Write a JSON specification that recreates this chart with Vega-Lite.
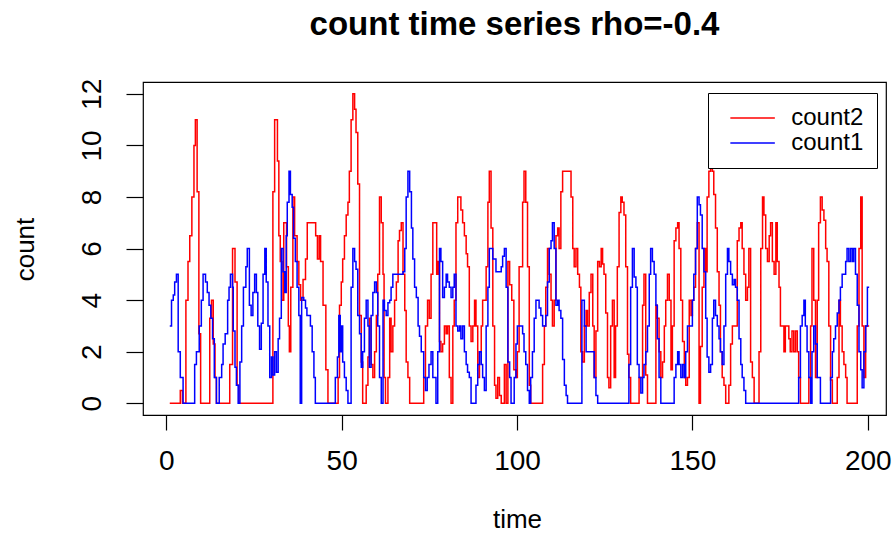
{
"$schema":"https://vega.github.io/schema/vega-lite/v6.json",
"autosize":{"type":"none"},
"padding":{"left":143,"top":82,"right":6,"bottom":118},
"width":743,"height":333,
"background":"white",
"title":{"text":"count time series rho=-0.4","font":"Liberation Sans","fontSize":33,"fontWeight":"bold","color":"black","anchor":"middle","frame":"group","baseline":"bottom","offset":3},
"config":{"view":{"stroke":"black","strokeWidth":1.2},"axis":{"grid":false,"domain":false,"labelFont":"Liberation Sans","titleFont":"Liberation Sans","labelFontSize":28,"titleFontSize":26,"titleFontWeight":"normal","labelColor":"black","titleColor":"black","tickColor":"black","tickWidth":1.2}},
"data":{"values":[
{"s":"count2","t":1,"v":0},{"s":"count2","t":4,"v":0.5},{"s":"count2","t":4.6,"v":0},{"s":"count2","t":5.6,"v":4},{"s":"count2","t":6.2,"v":5.5},{"s":"count2","t":6.7,"v":6.5},{"s":"count2","t":7.3,"v":8},{"s":"count2","t":7.9,"v":10},{"s":"count2","t":8.3,"v":11},{"s":"count2","t":8.8,"v":8.2},{"s":"count2","t":9.3,"v":2.7},{"s":"count2","t":9.8,"v":0},
{"s":"count2","t":12.4,"v":3.3},{"s":"count2","t":12.9,"v":4},{"s":"count2","t":13.4,"v":2.3},{"s":"count2","t":13.9,"v":1},{"s":"count2","t":14.3,"v":0},
{"s":"count2","t":18.1,"v":1.5},{"s":"count2","t":18.9,"v":6},{"s":"count2","t":19.6,"v":4.7},{"s":"count2","t":20.2,"v":0.7},{"s":"count2","t":20.7,"v":0},
{"s":"count2","t":30.4,"v":8.2},{"s":"count2","t":30.9,"v":11},{"s":"count2","t":31.7,"v":9.4},{"s":"count2","t":32.1,"v":6.5},{"s":"count2","t":32.5,"v":5.5},{"s":"count2","t":33,"v":4},{"s":"count2","t":33.5,"v":7},{"s":"count2","t":34.3,"v":5.3},{"s":"count2","t":34.8,"v":3},{"s":"count2","t":35.1,"v":2},{"s":"count2","t":35.5,"v":4.5},{"s":"count2","t":36.1,"v":8},{"s":"count2","t":36.6,"v":6.5},{"s":"count2","t":37.3,"v":5.5},{"s":"count2","t":37.8,"v":4.6},{"s":"count2","t":38.3,"v":4},{"s":"count2","t":39,"v":4.8},{"s":"count2","t":39.7,"v":5.6},{"s":"count2","t":40.2,"v":7},{"s":"count2","t":42.6,"v":6.5},{"s":"count2","t":43.1,"v":5.6},{"s":"count2","t":43.6,"v":6.5},{"s":"count2","t":44,"v":5.5},{"s":"count2","t":44.7,"v":3.8},{"s":"count2","t":45.5,"v":1.3},{"s":"count2","t":46.1,"v":0},
{"s":"count2","t":49,"v":1},{"s":"count2","t":49.4,"v":3.8},{"s":"count2","t":49.9,"v":4.7},{"s":"count2","t":50.3,"v":5.6},{"s":"count2","t":50.8,"v":6.5},{"s":"count2","t":51.3,"v":7.3},{"s":"count2","t":51.8,"v":7.8},{"s":"count2","t":52.2,"v":9},{"s":"count2","t":52.7,"v":11},{"s":"count2","t":53.2,"v":12},{"s":"count2","t":53.7,"v":11.4},{"s":"count2","t":54.1,"v":10.5},{"s":"count2","t":54.6,"v":8.5},{"s":"count2","t":55.1,"v":3.4},{"s":"count2","t":55.6,"v":1.6},{"s":"count2","t":56,"v":0},
{"s":"count2","t":57,"v":0.7},{"s":"count2","t":57.5,"v":1.8},{"s":"count2","t":57.9,"v":3.3},{"s":"count2","t":58.4,"v":1.5},{"s":"count2","t":58.9,"v":1},{"s":"count2","t":59.4,"v":2},{"s":"count2","t":59.9,"v":3.4},{"s":"count2","t":60.3,"v":5},{"s":"count2","t":60.8,"v":8},{"s":"count2","t":61.3,"v":7},{"s":"count2","t":61.8,"v":5},{"s":"count2","t":62.1,"v":1},{"s":"count2","t":62.5,"v":0},
{"s":"count2","t":63.2,"v":1},{"s":"count2","t":63.7,"v":3.3},{"s":"count2","t":64.1,"v":2},{"s":"count2","t":64.6,"v":3},{"s":"count2","t":65.1,"v":4},{"s":"count2","t":65.6,"v":4.7},{"s":"count2","t":66.1,"v":6.3},{"s":"count2","t":66.5,"v":6.7},{"s":"count2","t":67,"v":7},{"s":"count2","t":67.5,"v":5},{"s":"count2","t":68,"v":3.6},{"s":"count2","t":68.4,"v":1.6},{"s":"count2","t":68.9,"v":1},{"s":"count2","t":69.4,"v":0},
{"s":"count2","t":73.4,"v":1},{"s":"count2","t":73.9,"v":3},{"s":"count2","t":74.5,"v":4},{"s":"count2","t":75,"v":3.3},{"s":"count2","t":75.5,"v":5},{"s":"count2","t":76,"v":7},{"s":"count2","t":77.1,"v":5},{"s":"count2","t":77.5,"v":5.5},{"s":"count2","t":77.9,"v":2.4},{"s":"count2","t":78.3,"v":2},{"s":"count2","t":78.8,"v":2.3},{"s":"count2","t":79.3,"v":3},{"s":"count2","t":79.8,"v":2.7},{"s":"count2","t":80.2,"v":3},{"s":"count2","t":80.7,"v":1},{"s":"count2","t":81.2,"v":0},
{"s":"count2","t":81.7,"v":3},{"s":"count2","t":82.1,"v":4},{"s":"count2","t":82.6,"v":7},{"s":"count2","t":83.1,"v":8},{"s":"count2","t":84,"v":7.5},{"s":"count2","t":84.5,"v":7},{"s":"count2","t":85,"v":6.5},{"s":"count2","t":85.5,"v":5.8},{"s":"count2","t":85.9,"v":5.3},{"s":"count2","t":86.4,"v":3},{"s":"count2","t":86.9,"v":2.4},{"s":"count2","t":87.4,"v":3},{"s":"count2","t":87.9,"v":4},{"s":"count2","t":88.3,"v":3},{"s":"count2","t":88.8,"v":1},{"s":"count2","t":89.3,"v":2},{"s":"count2","t":89.8,"v":3},{"s":"count2","t":90.2,"v":4},{"s":"count2","t":91.2,"v":5.3},{"s":"count2","t":91.7,"v":7.8},{"s":"count2","t":92.1,"v":9},{"s":"count2","t":92.6,"v":6.8},{"s":"count2","t":93.1,"v":3},{"s":"count2","t":93.6,"v":0.7},{"s":"count2","t":94,"v":0.2},{"s":"count2","t":94.5,"v":1},{"s":"count2","t":95,"v":0.3},{"s":"count2","t":95.5,"v":0},
{"s":"count2","t":96.4,"v":1.5},{"s":"count2","t":96.9,"v":0},{"s":"count2","t":97.4,"v":5.5},{"s":"count2","t":97.9,"v":4.6},{"s":"count2","t":98.5,"v":4},{"s":"count2","t":99.1,"v":1.3},{"s":"count2","t":99.7,"v":1},{"s":"count2","t":100.1,"v":2},{"s":"count2","t":100.6,"v":5.3},{"s":"count2","t":101.6,"v":7.8},{"s":"count2","t":102,"v":9},{"s":"count2","t":102.5,"v":7.8},{"s":"count2","t":103,"v":5.3},{"s":"count2","t":103.5,"v":0.7},{"s":"count2","t":103.9,"v":0},
{"s":"count2","t":107.3,"v":1.5},{"s":"count2","t":107.8,"v":3},{"s":"count2","t":108.2,"v":4.5},{"s":"count2","t":108.7,"v":6},{"s":"count2","t":109.2,"v":5},{"s":"count2","t":109.7,"v":4},{"s":"count2","t":110.1,"v":3},{"s":"count2","t":110.6,"v":4},{"s":"count2","t":111.1,"v":6.5},{"s":"count2","t":111.6,"v":6.8},{"s":"count2","t":112,"v":6},{"s":"count2","t":112.5,"v":8.2},{"s":"count2","t":113,"v":9},{"s":"count2","t":115.4,"v":8},{"s":"count2","t":115.9,"v":6},{"s":"count2","t":116.3,"v":5.3},{"s":"count2","t":116.8,"v":6},{"s":"count2","t":117.3,"v":5},{"s":"count2","t":117.8,"v":4.5},{"s":"count2","t":118.2,"v":2},{"s":"count2","t":118.7,"v":1.6},{"s":"count2","t":119.2,"v":3},{"s":"count2","t":119.7,"v":3.6},{"s":"count2","t":120.1,"v":3},{"s":"count2","t":120.6,"v":4.3},{"s":"count2","t":121.1,"v":5},{"s":"count2","t":121.6,"v":3},{"s":"count2","t":122,"v":1},{"s":"count2","t":122.5,"v":2.8},{"s":"count2","t":123,"v":5.5},{"s":"count2","t":123.5,"v":5.3},{"s":"count2","t":124,"v":6},{"s":"count2","t":124.4,"v":5.4},{"s":"count2","t":124.8,"v":5},{"s":"count2","t":125.3,"v":3.5},{"s":"count2","t":125.8,"v":1},{"s":"count2","t":126.2,"v":0.6},{"s":"count2","t":126.7,"v":3},{"s":"count2","t":127.2,"v":4},{"s":"count2","t":127.7,"v":1},{"s":"count2","t":128.1,"v":3},{"s":"count2","t":128.6,"v":5.3},{"s":"count2","t":129.1,"v":7.4},{"s":"count2","t":129.6,"v":8},{"s":"count2","t":130,"v":7.8},{"s":"count2","t":130.5,"v":7.3},{"s":"count2","t":131,"v":5.3},{"s":"count2","t":131.5,"v":1.9},{"s":"count2","t":131.9,"v":1},{"s":"count2","t":132.4,"v":0},
{"s":"count2","t":134.8,"v":1},{"s":"count2","t":135.8,"v":3.8},{"s":"count2","t":136.2,"v":5},{"s":"count2","t":136.7,"v":1.1},{"s":"count2","t":137.2,"v":0},
{"s":"count2","t":139.6,"v":3.8},{"s":"count2","t":140,"v":3.3},{"s":"count2","t":140.5,"v":2},{"s":"count2","t":141,"v":1},{"s":"count2","t":141.5,"v":1.6},{"s":"count2","t":142,"v":3},{"s":"count2","t":142.4,"v":4},{"s":"count2","t":142.9,"v":5},{"s":"count2","t":143.4,"v":4},{"s":"count2","t":143.9,"v":1.3},{"s":"count2","t":144.3,"v":3},{"s":"count2","t":144.8,"v":6.3},{"s":"count2","t":145.3,"v":6.8},{"s":"count2","t":145.8,"v":7},{"s":"count2","t":146.2,"v":6},{"s":"count2","t":146.7,"v":4},{"s":"count2","t":147.2,"v":2.4},{"s":"count2","t":147.7,"v":1},{"s":"count2","t":148.1,"v":0.7},{"s":"count2","t":148.6,"v":1},{"s":"count2","t":149.1,"v":4},{"s":"count2","t":149.6,"v":3.4},{"s":"count2","t":150,"v":4},{"s":"count2","t":150.4,"v":4.5},{"s":"count2","t":150.9,"v":6},{"s":"count2","t":151.4,"v":7},{"s":"count2","t":151.9,"v":0},{"s":"count2","t":152.3,"v":2.2},{"s":"count2","t":152.8,"v":4.5},{"s":"count2","t":153.3,"v":6},{"s":"count2","t":153.8,"v":5.1},{"s":"count2","t":154.2,"v":8},{"s":"count2","t":154.7,"v":9},{"s":"count2","t":155.2,"v":9.2},{"s":"count2","t":155.7,"v":9},{"s":"count2","t":156.1,"v":8.1},{"s":"count2","t":156.6,"v":6.8},{"s":"count2","t":157.1,"v":5.1},{"s":"count2","t":157.6,"v":3.8},{"s":"count2","t":158,"v":2},{"s":"count2","t":158.5,"v":1},{"s":"count2","t":159,"v":0.7},{"s":"count2","t":159.5,"v":0},
{"s":"count2","t":160.4,"v":0.7},{"s":"count2","t":160.9,"v":2.3},{"s":"count2","t":161.4,"v":3},{"s":"count2","t":162.8,"v":6.3},{"s":"count2","t":163.3,"v":6.8},{"s":"count2","t":163.8,"v":7},{"s":"count2","t":164.2,"v":6},{"s":"count2","t":164.7,"v":5},{"s":"count2","t":165.2,"v":4},{"s":"count2","t":165.7,"v":4.5},{"s":"count2","t":166.1,"v":6},{"s":"count2","t":166.6,"v":1.6},{"s":"count2","t":167.1,"v":1},{"s":"count2","t":167.6,"v":0},
{"s":"count2","t":169,"v":2},{"s":"count2","t":169.5,"v":6},{"s":"count2","t":170,"v":8},{"s":"count2","t":170.4,"v":7.3},{"s":"count2","t":170.9,"v":6},{"s":"count2","t":171.4,"v":5.5},{"s":"count2","t":171.9,"v":6.5},{"s":"count2","t":172.3,"v":7},{"s":"count2","t":172.8,"v":5.5},{"s":"count2","t":173.3,"v":5},{"s":"count2","t":173.8,"v":7},{"s":"count2","t":174.2,"v":5.5},{"s":"count2","t":174.7,"v":4.5},{"s":"count2","t":175.1,"v":3},{"s":"count2","t":176.1,"v":2},{"s":"count2","t":176.5,"v":3},{"s":"count2","t":177.5,"v":2.5},{"s":"count2","t":177.9,"v":2},{"s":"count2","t":178.4,"v":2.8},{"s":"count2","t":178.9,"v":2},{"s":"count2","t":179.4,"v":2.8},{"s":"count2","t":179.9,"v":2},{"s":"count2","t":180.3,"v":1},{"s":"count2","t":180.8,"v":0},
{"s":"count2","t":183.2,"v":1},{"s":"count2","t":183.7,"v":3},{"s":"count2","t":184.1,"v":6},{"s":"count2","t":184.6,"v":4},{"s":"count2","t":185.1,"v":1},{"s":"count2","t":185.6,"v":4},{"s":"count2","t":186,"v":7},{"s":"count2","t":186.5,"v":8},{"s":"count2","t":187,"v":7.5},{"s":"count2","t":187.5,"v":7.1},{"s":"count2","t":188,"v":6},{"s":"count2","t":188.4,"v":5.5},{"s":"count2","t":188.9,"v":3},{"s":"count2","t":189.4,"v":0.9},{"s":"count2","t":189.9,"v":0},
{"s":"count2","t":191.3,"v":1},{"s":"count2","t":191.8,"v":4},{"s":"count2","t":192.2,"v":3},{"s":"count2","t":192.7,"v":2},{"s":"count2","t":193.2,"v":1.5},{"s":"count2","t":193.7,"v":1},{"s":"count2","t":194.1,"v":0},
{"s":"count2","t":197,"v":3},{"s":"count2","t":197.5,"v":6},{"s":"count2","t":198,"v":8},{"s":"count2","t":198.4,"v":3},{"s":"count2","t":198.9,"v":1},{"s":"count2","t":199.4,"v":3},{"s":"count2","t":200.4,"v":3},
{"s":"count1","t":1,"v":3},{"s":"count1","t":1.5,"v":4},{"s":"count1","t":2,"v":4.2},{"s":"count1","t":2.4,"v":4.7},{"s":"count1","t":2.9,"v":5},{"s":"count1","t":3.4,"v":2},{"s":"count1","t":4,"v":1},{"s":"count1","t":4.8,"v":0},
{"s":"count1","t":8.1,"v":1.5},{"s":"count1","t":8.6,"v":2},{"s":"count1","t":9.4,"v":3},{"s":"count1","t":10,"v":4},{"s":"count1","t":10.5,"v":5},{"s":"count1","t":11.2,"v":4.7},{"s":"count1","t":11.7,"v":4.3},{"s":"count1","t":12.2,"v":3.8},{"s":"count1","t":12.7,"v":3.3},{"s":"count1","t":13.2,"v":2.5},{"s":"count1","t":13.7,"v":1},{"s":"count1","t":14.3,"v":0},
{"s":"count1","t":15.1,"v":1},{"s":"count1","t":15.8,"v":1.5},{"s":"count1","t":16.2,"v":2.3},{"s":"count1","t":16.8,"v":2.7},{"s":"count1","t":17.5,"v":4},{"s":"count1","t":17.9,"v":4.5},{"s":"count1","t":18.3,"v":5},{"s":"count1","t":18.9,"v":4.5},{"s":"count1","t":19.1,"v":2.8},{"s":"count1","t":19.6,"v":1.4},{"s":"count1","t":20,"v":0.7},{"s":"count1","t":20.5,"v":0},
{"s":"count1","t":21,"v":1.6},{"s":"count1","t":21.5,"v":3},{"s":"count1","t":22,"v":4.5},{"s":"count1","t":22.7,"v":5.3},{"s":"count1","t":23.1,"v":6},{"s":"count1","t":23.7,"v":3.8},{"s":"count1","t":24.2,"v":3.4},{"s":"count1","t":24.7,"v":4.3},{"s":"count1","t":25.2,"v":5},{"s":"count1","t":25.7,"v":4.3},{"s":"count1","t":26.1,"v":3},{"s":"count1","t":26.6,"v":2.1},{"s":"count1","t":27.1,"v":3.1},{"s":"count1","t":27.6,"v":5},{"s":"count1","t":28.1,"v":6},{"s":"count1","t":28.5,"v":4.7},{"s":"count1","t":29,"v":3},{"s":"count1","t":29.5,"v":1},{"s":"count1","t":30,"v":1.8},{"s":"count1","t":30.4,"v":1.1},{"s":"count1","t":30.9,"v":2},{"s":"count1","t":31.4,"v":1.2},{"s":"count1","t":31.9,"v":2.5},{"s":"count1","t":32.3,"v":3.3},{"s":"count1","t":32.8,"v":6},{"s":"count1","t":33.3,"v":5.1},{"s":"count1","t":33.8,"v":4.3},{"s":"count1","t":34.2,"v":6.5},{"s":"count1","t":34.5,"v":7.8},{"s":"count1","t":35,"v":9},{"s":"count1","t":35.4,"v":8.1},{"s":"count1","t":35.9,"v":7.6},{"s":"count1","t":36.3,"v":6.4},{"s":"count1","t":36.8,"v":5.5},{"s":"count1","t":37.3,"v":4.5},{"s":"count1","t":37.8,"v":3.4},{"s":"count1","t":38.2,"v":0},{"s":"count1","t":38.6,"v":4.1},{"s":"count1","t":39.2,"v":4},{"s":"count1","t":39.7,"v":3.7},{"s":"count1","t":40.1,"v":3.4},{"s":"count1","t":41.1,"v":3},{"s":"count1","t":41.6,"v":2},{"s":"count1","t":42.1,"v":1},{"s":"count1","t":42.5,"v":0},
{"s":"count1","t":48.2,"v":1},{"s":"count1","t":48.8,"v":1.8},{"s":"count1","t":49.2,"v":3.4},{"s":"count1","t":49.6,"v":2},{"s":"count1","t":50,"v":3},{"s":"count1","t":50.3,"v":1.6},{"s":"count1","t":50.8,"v":1},{"s":"count1","t":51.3,"v":0.5},{"s":"count1","t":51.8,"v":0},
{"s":"count1","t":52.7,"v":4.5},{"s":"count1","t":53.2,"v":6},{"s":"count1","t":53.7,"v":5.5},{"s":"count1","t":54.1,"v":5.2},{"s":"count1","t":54.6,"v":3.4},{"s":"count1","t":55.1,"v":2.7},{"s":"count1","t":55.6,"v":1.4},{"s":"count1","t":56,"v":2},{"s":"count1","t":56.5,"v":3.3},{"s":"count1","t":57,"v":4},{"s":"count1","t":57.5,"v":3},{"s":"count1","t":57.9,"v":1.4},{"s":"count1","t":58.4,"v":3.4},{"s":"count1","t":58.9,"v":4.3},{"s":"count1","t":59.4,"v":4.7},{"s":"count1","t":59.9,"v":4.3},{"s":"count1","t":60.3,"v":3},{"s":"count1","t":60.8,"v":1},{"s":"count1","t":61.3,"v":0},
{"s":"count1","t":61.8,"v":4},{"s":"count1","t":62.2,"v":3.6},{"s":"count1","t":62.7,"v":3.4},{"s":"count1","t":63.2,"v":3.9},{"s":"count1","t":63.7,"v":4},{"s":"count1","t":64.1,"v":4.5},{"s":"count1","t":64.6,"v":5},{"s":"count1","t":67.5,"v":5.1},{"s":"count1","t":68,"v":6},{"s":"count1","t":68.4,"v":8},{"s":"count1","t":68.9,"v":9},{"s":"count1","t":69.4,"v":8.2},{"s":"count1","t":69.9,"v":6.8},{"s":"count1","t":70.3,"v":5.6},{"s":"count1","t":70.8,"v":4.5},{"s":"count1","t":71.3,"v":4.1},{"s":"count1","t":71.8,"v":3},{"s":"count1","t":72.2,"v":2.6},{"s":"count1","t":72.7,"v":2},{"s":"count1","t":73.4,"v":1},{"s":"count1","t":73.9,"v":0.5},{"s":"count1","t":74.4,"v":1},{"s":"count1","t":74.9,"v":1.5},{"s":"count1","t":75.5,"v":2},{"s":"count1","t":76,"v":1},{"s":"count1","t":76.9,"v":0},
{"s":"count1","t":77.4,"v":2},{"s":"count1","t":77.9,"v":6},{"s":"count1","t":78.3,"v":5.5},{"s":"count1","t":78.8,"v":4.1},{"s":"count1","t":79.3,"v":4.5},{"s":"count1","t":79.8,"v":5},{"s":"count1","t":80.2,"v":4.7},{"s":"count1","t":80.7,"v":4.5},{"s":"count1","t":81.2,"v":4.1},{"s":"count1","t":81.7,"v":4.5},{"s":"count1","t":82.1,"v":5},{"s":"count1","t":82.6,"v":3},{"s":"count1","t":83.1,"v":2.8},{"s":"count1","t":83.6,"v":3},{"s":"count1","t":84,"v":2.5},{"s":"count1","t":84.5,"v":3},{"s":"count1","t":85,"v":2},{"s":"count1","t":85.5,"v":1.5},{"s":"count1","t":85.9,"v":1.2},{"s":"count1","t":86.4,"v":1},{"s":"count1","t":86.9,"v":0},
{"s":"count1","t":88.3,"v":0.7},{"s":"count1","t":88.8,"v":1.5},{"s":"count1","t":89.3,"v":2},{"s":"count1","t":89.8,"v":1.5},{"s":"count1","t":90.2,"v":1},{"s":"count1","t":90.7,"v":0.5},{"s":"count1","t":91.2,"v":3},{"s":"count1","t":91.7,"v":4.5},{"s":"count1","t":92.1,"v":6},{"s":"count1","t":93.1,"v":5.6},{"s":"count1","t":94,"v":5.1},{"s":"count1","t":95.5,"v":5.3},{"s":"count1","t":95.9,"v":5.7},{"s":"count1","t":96.4,"v":6},{"s":"count1","t":96.9,"v":4.5},{"s":"count1","t":97.4,"v":1.6},{"s":"count1","t":97.9,"v":1},{"s":"count1","t":98.3,"v":0},
{"s":"count1","t":99.2,"v":1},{"s":"count1","t":99.7,"v":2.3},{"s":"count1","t":100.1,"v":3},{"s":"count1","t":101.6,"v":2.7},{"s":"count1","t":102,"v":2},{"s":"count1","t":102.5,"v":1.5},{"s":"count1","t":103,"v":0.5},{"s":"count1","t":103.5,"v":0},
{"s":"count1","t":103.9,"v":1},{"s":"count1","t":104.4,"v":2},{"s":"count1","t":104.9,"v":3.3},{"s":"count1","t":105.4,"v":4},{"s":"count1","t":106.3,"v":3.7},{"s":"count1","t":106.8,"v":3.4},{"s":"count1","t":107.3,"v":3},{"s":"count1","t":108.2,"v":3.4},{"s":"count1","t":108.7,"v":4.7},{"s":"count1","t":109.2,"v":6},{"s":"count1","t":109.7,"v":6.3},{"s":"count1","t":110.1,"v":7},{"s":"count1","t":110.6,"v":6},{"s":"count1","t":111.1,"v":3.8},{"s":"count1","t":111.6,"v":4},{"s":"count1","t":112,"v":3.6},{"s":"count1","t":112.5,"v":3.3},{"s":"count1","t":113,"v":1.7},{"s":"count1","t":113.5,"v":0.7},{"s":"count1","t":114,"v":0.3},{"s":"count1","t":114.4,"v":0},
{"s":"count1","t":118.5,"v":4},{"s":"count1","t":119.2,"v":3},{"s":"count1","t":119.7,"v":2},{"s":"count1","t":122,"v":1},{"s":"count1","t":122.5,"v":0.3},{"s":"count1","t":123,"v":0},
{"s":"count1","t":131.9,"v":1.5},{"s":"count1","t":132.4,"v":4.5},{"s":"count1","t":132.9,"v":6},{"s":"count1","t":133.4,"v":4.9},{"s":"count1","t":133.9,"v":4.5},{"s":"count1","t":134.3,"v":1.5},{"s":"count1","t":134.8,"v":1},{"s":"count1","t":135.3,"v":0.4},{"s":"count1","t":135.8,"v":1},{"s":"count1","t":136.2,"v":1.5},{"s":"count1","t":136.7,"v":2},{"s":"count1","t":137.2,"v":3},{"s":"count1","t":137.7,"v":5},{"s":"count1","t":138.1,"v":6},{"s":"count1","t":138.6,"v":5.5},{"s":"count1","t":139.1,"v":5},{"s":"count1","t":139.6,"v":3.8},{"s":"count1","t":140,"v":2.5},{"s":"count1","t":140.5,"v":1},{"s":"count1","t":141,"v":0},
{"s":"count1","t":144.8,"v":1},{"s":"count1","t":145.3,"v":1.5},{"s":"count1","t":145.8,"v":2},{"s":"count1","t":146.2,"v":1.5},{"s":"count1","t":146.7,"v":1},{"s":"count1","t":147.2,"v":1.5},{"s":"count1","t":147.7,"v":1},{"s":"count1","t":148.1,"v":2},{"s":"count1","t":148.6,"v":3},{"s":"count1","t":150,"v":4},{"s":"count1","t":150.4,"v":5},{"s":"count1","t":150.9,"v":6},{"s":"count1","t":151.4,"v":8},{"s":"count1","t":151.9,"v":7.7},{"s":"count1","t":152.3,"v":7.3},{"s":"count1","t":152.8,"v":6},{"s":"count1","t":153.3,"v":5.1},{"s":"count1","t":153.8,"v":3.3},{"s":"count1","t":154.2,"v":1.8},{"s":"count1","t":154.7,"v":1.2},{"s":"count1","t":155.2,"v":1.5},{"s":"count1","t":155.7,"v":3.3},{"s":"count1","t":156.1,"v":4},{"s":"count1","t":156.6,"v":3.4},{"s":"count1","t":157.1,"v":3},{"s":"count1","t":157.6,"v":2.5},{"s":"count1","t":158,"v":2},{"s":"count1","t":158.5,"v":1.5},{"s":"count1","t":159,"v":3},{"s":"count1","t":159.5,"v":5},{"s":"count1","t":160,"v":6},{"s":"count1","t":160.4,"v":5.5},{"s":"count1","t":160.9,"v":5},{"s":"count1","t":161.4,"v":4.6},{"s":"count1","t":161.9,"v":4.8},{"s":"count1","t":162.3,"v":4.5},{"s":"count1","t":162.8,"v":4},{"s":"count1","t":163.3,"v":2.5},{"s":"count1","t":163.8,"v":1.5},{"s":"count1","t":164.2,"v":1},{"s":"count1","t":164.7,"v":0.5},{"s":"count1","t":165.2,"v":0},
{"s":"count1","t":180.3,"v":1},{"s":"count1","t":180.8,"v":3},{"s":"count1","t":181.3,"v":3.4},{"s":"count1","t":181.8,"v":4},{"s":"count1","t":182.2,"v":3},{"s":"count1","t":182.7,"v":2},{"s":"count1","t":183.2,"v":1},{"s":"count1","t":183.7,"v":0},{"s":"count1","t":184.1,"v":2},{"s":"count1","t":184.6,"v":3},{"s":"count1","t":185.1,"v":2.3},{"s":"count1","t":185.6,"v":1},{"s":"count1","t":186.5,"v":0},
{"s":"count1","t":189.4,"v":1},{"s":"count1","t":189.9,"v":2},{"s":"count1","t":190.3,"v":2.5},{"s":"count1","t":190.8,"v":3},{"s":"count1","t":191.3,"v":3.5},{"s":"count1","t":191.8,"v":4},{"s":"count1","t":192.2,"v":4.5},{"s":"count1","t":192.7,"v":5},{"s":"count1","t":193.7,"v":5.5},{"s":"count1","t":194.1,"v":6},{"s":"count1","t":194.6,"v":5.5},{"s":"count1","t":195.1,"v":6},{"s":"count1","t":195.6,"v":5.5},{"s":"count1","t":196,"v":6},{"s":"count1","t":196.5,"v":5},{"s":"count1","t":197,"v":3.8},{"s":"count1","t":197.5,"v":2},{"s":"count1","t":198,"v":1.3},{"s":"count1","t":198.4,"v":0.6},{"s":"count1","t":198.9,"v":2},{"s":"count1","t":199.4,"v":3},{"s":"count1","t":199.9,"v":4.5},{"s":"count1","t":200.4,"v":4.5}
]},
"mark":{"type":"line","interpolate":"step-after","strokeWidth":1.5},
"encoding":{
"x":{"field":"t","type":"quantitative","scale":{"domain":[-6.63,205.2],"nice":false,"zero":false},"axis":{"values":[0,50,100,150,200],"title":"time","tickSize":15,"labelPadding":39,"labelBaseline":"alphabetic","titleX":374,"titleY":112,"titleBaseline":"alphabetic","titleAlign":"center"}},
"y":{"field":"v","type":"quantitative","scale":{"domain":[-0.454,12.46],"nice":false,"zero":false},"axis":{"values":[0,2,4,6,8,10,12],"title":"count","tickSize":17,"labelPadding":26,"labelAngle":-90,"labelAlign":"center","labelBaseline":"alphabetic","titleX":-110,"titleY":167,"titleAngle":-90,"titleAlign":"center","titleBaseline":"alphabetic"}},
"color":{"field":"s","type":"nominal","scale":{"domain":["count2","count1"],"range":["#FF0000","#0000FF"]},"legend":{"title":null,"orient":"none","legendX":565,"legendY":11,"symbolType":"M-3,0H3","symbolSize":220,"symbolStrokeWidth":1.5,"symbolOffset":19.6,"labelOffset":26.6,"labelFont":"Liberation Sans","labelFontSize":24,"labelColor":"black","padding":13,"rowPadding":1,"strokeColor":"black","fillColor":"white"}},
"order":{"field":"t","type":"quantitative"}
}
}
